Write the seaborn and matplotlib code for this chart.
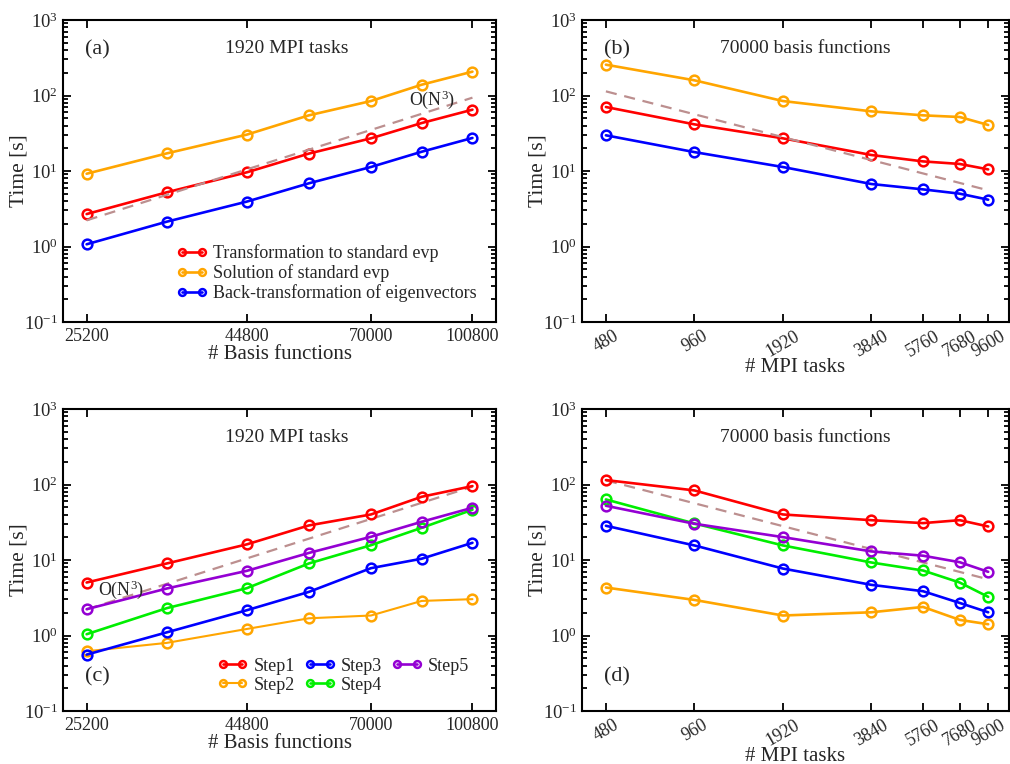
import numpy as np
import pandas as pd
import matplotlib
matplotlib.use("Agg")
import matplotlib.pyplot as plt
import matplotlib.ticker as mticker
import seaborn as sns

# ---------------- data ----------------
basis_n = [25200, 33600, 44800, 56000, 70000, 84000, 100800]
basis_ticks = [25200, 44800, 70000, 100800]
mpi_p = [480, 960, 1920, 3840, 5760, 7680, 9600]
mpi_ticks = [480, 960, 1920, 3840, 5760, 7680, 9600]

# panel (a): 1920 MPI tasks
a_transform = [2.69, 5.22, 9.6, 17.0, 27.1, 43.2, 64.9]
a_solution = [9.2, 17.1, 30.3, 54.6, 84.5, 139, 207]
a_back = [1.07, 2.13, 3.93, 6.87, 11.3, 18.0, 27.4]
a_ref_x = [25200, 100800]
a_ref_y = [2.22, 93.6]

# panel (b): 70000 basis functions
b_transform = [70.4, 41.5, 27.1, 16.3, 13.4, 12.4, 10.5]
b_solution = [256, 159, 84.5, 61.7, 54.6, 51.9, 40.7]
b_back = [29.7, 17.8, 11.3, 6.73, 5.71, 5.01, 4.17]
b_ref_x = [480, 9600]
b_ref_y = [113.5, 5.55]

# panel (c): 1920 MPI tasks, solution steps
c_step1 = [5.03, 8.99, 16.1, 28.7, 40.1, 68.8, 95.3]
c_step2 = [0.618, 0.798, 1.22, 1.69, 1.84, 2.87, 3.03]
c_step3 = [0.558, 1.10, 2.16, 3.78, 7.80, 10.4, 16.9]
c_step4 = [1.04, 2.30, 4.23, 9.0, 15.7, 26.7, 46.3]
c_step5 = [2.23, 4.19, 7.18, 12.4, 20.3, 32.1, 49.2]

# panel (d): 70000 basis functions, solution steps
d_step1 = [114.5, 83.5, 40.1, 33.7, 30.8, 33.7, 27.8]
d_step2 = [4.32, 2.96, 1.84, 2.03, 2.39, 1.61, 1.41]
d_step3 = [28.4, 15.6, 7.71, 4.69, 3.86, 2.70, 2.03]
d_step4 = [63.4, 30.5, 15.6, 9.27, 7.26, 5.03, 3.25]
d_step5 = [52.3, 30.2, 20.1, 13.0, 11.4, 9.35, 6.97]

labels_ab = ["Transformation to standard evp", "Solution of standard evp",
             "Back-transformation of eigenvectors"]
labels_cd = ["Step1", "Step2", "Step3", "Step4", "Step5"]

# ---------------- style ----------------
sns.set_style("ticks")
plt.rcParams["font.family"] = ["Liberation Serif", "DejaVu Serif"]
plt.rcParams["mathtext.fontset"] = "custom"
plt.rcParams["mathtext.rm"] = "Liberation Serif"
plt.rcParams["mathtext.it"] = "Liberation Serif:italic"
plt.rcParams["axes.linewidth"] = 1.5

RED, ORANGE, BLUE, GREEN, PURPLE = "#ff0000", "#ffa500", "#0000ff", "#00ee00", "#9400d3"
DASH = "#bc8f8f"

fig = plt.figure(figsize=(10.1, 7.64), dpi=100)
W, H = 1010, 764


def make_ax(l, r, t, b):
    return fig.add_axes([l / W, 1 - b / H, (r - l) / W, (b - t) / H])


ax_a = make_ax(63, 496, 20, 322)
ax_b = make_ax(582, 1009, 20, 322)
ax_c = make_ax(63, 496, 409, 711)
ax_d = make_ax(582, 1009, 409, 711)


def series(ax, x, y, color, label, lw=1.9):
    sns.lineplot(x=x, y=y, ax=ax, color=color, marker="o", markersize=7,
                 mfc="none", mec=color, mew=1.8, linewidth=lw, label=label,
                 legend=False)


def ref(ax, x, y):
    sns.lineplot(x=x, y=y, ax=ax, color=DASH, linewidth=1.6,
                 dashes=(5, 3.5), legend=False)


def style_axis(ax, xticks, xlim, xlabel, rot):
    ax.set_yscale("log")
    ax.set_xscale("log")
    ax.set_ylim(0.1, 1000)
    ax.set_xlim(*xlim)
    ax.xaxis.set_major_locator(mticker.FixedLocator(xticks))
    ax.xaxis.set_major_formatter(mticker.FixedFormatter([str(t) for t in xticks]))
    ax.xaxis.set_minor_locator(mticker.NullLocator())
    ax.yaxis.set_major_locator(mticker.LogLocator(base=10, numticks=10))
    ax.yaxis.set_major_formatter(mticker.LogFormatterMathtext())
    ax.yaxis.set_minor_locator(mticker.LogLocator(base=10, subs=np.arange(2, 10), numticks=20))
    ax.yaxis.set_minor_formatter(mticker.NullFormatter())
    ax.tick_params(which="both", direction="in", top=True, right=True, width=1.3,
                   labelsize=13, color="black")
    ax.tick_params(which="major", length=6)
    ax.tick_params(which="minor", length=3.3)
    ax.tick_params(axis="x", pad=4)
    ax.tick_params(axis="y", labelsize=13.5)
    if rot:
        for lab in ax.get_xticklabels():
            lab.set_rotation(30)
            lab.set_ha("center")
    ax.set_xlabel(xlabel, fontsize=15, labelpad=-2 if rot else 0)
    ax.set_ylabel("Time [s]", fontsize=15.5, labelpad=-3)
    for s in ax.spines.values():
        s.set_linewidth(1.5)
        s.set_color("black")


for ax in (ax_a, ax_b, ax_c, ax_d):
    ax.set_xscale("log")
    ax.set_yscale("log")

# panel (a)
series(ax_a, basis_n, a_transform, RED, labels_ab[0])
series(ax_a, basis_n, a_solution, ORANGE, labels_ab[1])
series(ax_a, basis_n, a_back, BLUE, labels_ab[2])
ref(ax_a, a_ref_x, a_ref_y)

# panel (b)
series(ax_b, mpi_p, b_transform, RED, labels_ab[0])
series(ax_b, mpi_p, b_solution, ORANGE, labels_ab[1])
series(ax_b, mpi_p, b_back, BLUE, labels_ab[2])
ref(ax_b, b_ref_x, b_ref_y)

# panels (c) and (d)
c_vals = [c_step1, c_step2, c_step3, c_step4, c_step5]
d_vals = [d_step1, d_step2, d_step3, d_step4, d_step5]
step_colors = [RED, ORANGE, BLUE, GREEN, PURPLE]
ref(ax_c, a_ref_x, a_ref_y)
for vals, col, lab in zip(c_vals, step_colors, labels_cd):
    series(ax_c, basis_n, vals, col, lab, lw=1.5 if lab == "Step2" else 1.9)
ref(ax_d, b_ref_x, b_ref_y)
for vals, col, lab in zip(d_vals, step_colors, labels_cd):
    series(ax_d, mpi_p, vals, col, lab)

nlim = (23150, 109700)
plim = (398, 11300)
style_axis(ax_a, basis_ticks, nlim, "# Basis functions", False)
style_axis(ax_c, basis_ticks, nlim, "# Basis functions", False)
style_axis(ax_b, mpi_ticks, plim, "# MPI tasks", True)
style_axis(ax_d, mpi_ticks, plim, "# MPI tasks", True)

# legends
h, l = ax_a.get_legend_handles_labels()
ax_a.legend(h, l, loc="upper left", bbox_to_anchor=(0.263, 0.257), frameon=False,
            fontsize=13, numpoints=2, handlelength=1.7, handletextpad=0.3,
            labelspacing=0.12, borderpad=0, borderaxespad=0, markerscale=0.7)
h, l = ax_c.get_legend_handles_labels()
ax_c.legend(h, l, loc="upper left", bbox_to_anchor=(0.356, 0.177), frameon=False,
            fontsize=13, numpoints=2, ncol=3, handlelength=1.7, handletextpad=0.3,
            labelspacing=0.12, columnspacing=0.55, borderpad=0, borderaxespad=0,
            markerscale=0.7)

# annotations
ax_a.text(0.051, 0.90, "(a)", transform=ax_a.transAxes, fontsize=16, va="center")
ax_b.text(0.051, 0.90, "(b)", transform=ax_b.transAxes, fontsize=16, va="center")
ax_c.text(0.051, 0.113, "(c)", transform=ax_c.transAxes, fontsize=16, va="center")
ax_d.text(0.051, 0.113, "(d)", transform=ax_d.transAxes, fontsize=16, va="center")
ax_a.text(0.517, 0.904, "1920 MPI tasks", transform=ax_a.transAxes, fontsize=14,
          ha="center", va="center")
ax_c.text(0.517, 0.904, "1920 MPI tasks", transform=ax_c.transAxes, fontsize=14,
          ha="center", va="center")
ax_b.text(0.522, 0.904, "70000 basis functions", transform=ax_b.transAxes, fontsize=14,
          ha="center", va="center")
ax_d.text(0.522, 0.904, "70000 basis functions", transform=ax_d.transAxes, fontsize=14,
          ha="center", va="center")
ax_a.text(0.80, 0.735, "O(N$^{3}$)", transform=ax_a.transAxes, fontsize=13, va="center")
ax_c.text(0.081, 0.40, "O(N$^{3}$)", transform=ax_c.transAxes, fontsize=13, va="center")

fig.savefig("out.png", dpi=100)
